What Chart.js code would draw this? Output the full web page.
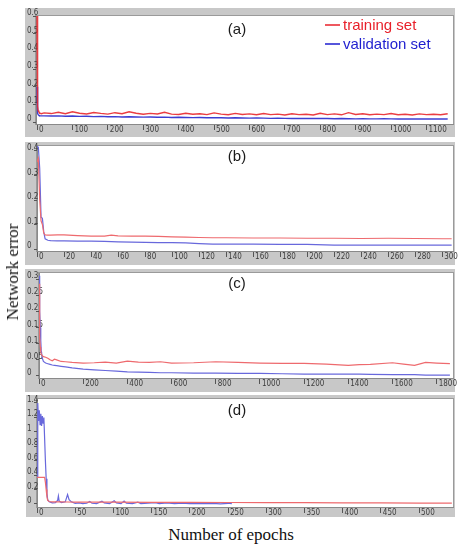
<!DOCTYPE html>
<html>
<head>
<meta charset="utf-8">
<script src="https://cdn.jsdelivr.net/npm/chart.js@4.4.0/dist/chart.umd.min.js"></script>
<style>
  body { margin: 0; background: #fff; width: 462px; height: 550px; position: relative; overflow: hidden; }
  .panel { position: absolute; left: 0; width: 462px; }
  #pa { top: 8px; height: 129px; }
  #pb { top: 142px; height: 123px; }
  #pc { top: 269px; height: 123px; }
  #pd { top: 395px; height: 122px; }
  #ylab {
    position: absolute; left: 13px; top: 272px;
    transform: translate(-50%, -50%) rotate(-90deg);
    font-family: "Liberation Serif", "Times New Roman", serif; font-size: 17px; color: #111; white-space: nowrap;
  }
  #xlab {
    position: absolute; left: 231px; top: 535px;
    transform: translate(-50%, -50%);
    font-family: "Liberation Serif", "Times New Roman", serif; font-size: 17px; color: #111; white-space: nowrap;
  }
</style>
</head>
<body>
<div class="panel" id="pa"><canvas id="chartA"></canvas></div>
<div class="panel" id="pb"><canvas id="chartB"></canvas></div>
<div class="panel" id="pc"><canvas id="chartC"></canvas></div>
<div class="panel" id="pd"><canvas id="chartD"></canvas></div>
<div id="ylab">Network error</div>
<div id="xlab">Number of epochs</div>

<script>
// ---- data ----
const seriesNames = ["training set", "validation set"];

// (a)
const epochsA = [0,1,2,3,5,8,12,20,40,60,80,100,120,140,160,180,200,220,240,260,280,300,320,340,360,380,400,420,440,460,480,500,520,540,560,580,600,620,640,660,680,700,720,740,760,780,800,820,840,860,880,900,920,940,960,980,1000,1020,1040,1060,1080,1100,1120,1140,1160];
const trainA = [0.6,0.35,0.09,0.065,0.058,0.05,0.047,0.052,
  0.048,0.055,0.047,0.058,0.05,0.046,0.054,0.049,0.045,0.053,
  0.047,0.058,0.05,0.044,0.049,0.046,0.055,0.045,0.043,0.05,
  0.044,0.047,0.042,0.052,0.045,0.041,0.049,0.043,0.046,0.041,
  0.048,0.042,0.045,0.04,0.047,0.042,0.044,0.04,0.05,0.042,
  0.046,0.041,0.053,0.043,0.047,0.041,0.045,0.042,0.048,0.041,
  0.044,0.04,0.046,0.042,0.044,0.041,0.047];
const validA = [0.2,0.12,0.05,0.042,0.038,0.036,0.035,0.035,
  0.034,0.035,0.033,0.034,0.032,0.033,0.031,0.032,0.03,0.031,
  0.029,0.03,0.029,0.028,0.029,0.027,0.028,0.026,0.027,0.026,
  0.025,0.026,0.024,0.025,0.024,0.023,0.024,0.023,0.022,0.023,
  0.022,0.021,0.022,0.021,0.02,0.021,0.02,0.02,0.021,0.02,
  0.019,0.02,0.019,0.018,0.019,0.018,0.018,0.019,0.018,0.017,
  0.018,0.017,0.018,0.017,0.017,0.018,0.017];
const xTicksA = [0,100,200,300,400,500,600,700,800,900,1000,1100];
const yTicksA = [0,0.1,0.2,0.3,0.4,0.5,0.6];

// (b)
const epochsB = [0,1,2,3,4,5,6,8,10,15,20,30,40,50,55,60,70,80,90,100,110,120,130,140,160,180,200,220,240,260,280,300,307];
const trainB = [0.355,0.37,0.2,0.115,0.1,0.065,0.058,0.057,0.057,0.058,0.058,0.055,0.053,0.053,0.057,0.054,0.053,0.053,0.052,0.05,0.049,0.047,0.046,0.046,0.045,0.045,0.044,0.044,0.043,0.044,0.043,0.042,0.042];
const validB = [0.42,0.415,0.33,0.13,0.125,0.07,0.042,0.036,0.034,0.033,0.033,0.032,0.032,0.031,0.03,0.029,0.028,0.027,0.026,0.026,0.025,0.022,0.02,0.02,0.02,0.019,0.019,0.016,0.016,0.016,0.016,0.016,0.016];
const xTicksB = [0,20,40,60,80,100,120,140,160,180,200,220,240,260,280,300];
const yTicksB = [0,0.1,0.2,0.3,0.4];

// (c)
const epochsC = [0,2,4,6,8,10,15,20,30,40,50,60,70,80,100,120,150,200,250,300,350,400,450,500,550,600,700,800,900,1000,1100,1200,1300,1400,1450,1500,1600,1650,1700,1750,1800,1860];
const trainC = [0.285,0.2,0.12,0.09,0.075,0.068,0.063,0.06,0.058,0.055,0.05,0.047,0.052,0.05,0.045,0.044,0.042,0.04,0.041,0.043,0.04,0.046,0.043,0.042,0.044,0.04,0.041,0.044,0.042,0.04,0.039,0.039,0.037,0.033,0.035,0.036,0.041,0.037,0.033,0.042,0.04,0.038];
const validC = [0.31,0.26,0.2,0.15,0.11,0.08,0.055,0.045,0.04,0.038,0.036,0.034,0.033,0.032,0.03,0.028,0.025,0.021,0.019,0.017,0.015,0.013,0.012,0.011,0.01,0.01,0.009,0.009,0.008,0.008,0.007,0.006,0.006,0.006,0.006,0.005,0.004,0.004,0.004,0.003,0.003,0.003];
const xTicksC = [0,200,400,600,800,1000,1200,1400,1600,1800];
const yTicksC = [0,0.05,0.1,0.15,0.2,0.25,0.3];

// (d)
const trainEpochsD = [0,5,10,11,12,13,14,16,20,30,40,50,60,80,100,150,200,250,300,350,400,450,500,543];
const trainD = [0.37,0.37,0.37,0.3,0.2,0.1,0.05,0.035,0.03,0.03,0.028,0.027,0.026,0.025,0.025,0.023,0.022,0.021,0.02,0.018,0.016,0.015,0.013,0.012];
const validEpochsD = [0,1,2,3,4,5,6,7,8,9,10,11,12,13,14,16,20,24,27,28,29,32,37,40,42,45,50,55,60,65,69,72,78,85,88,95,101,104,110,114,117,125,132,136,145,155,160,170,180,190,200,210,220,230,240,250,255];
const validD = [0.38,1.4,1.15,1.3,1.1,1.25,1.08,1.22,1.12,1.2,0.9,0.6,0.35,0.15,0.06,
  0.03,0.015,0.02,0.05,0.11,0.04,0.02,0.03,0.13,0.06,
  0.03,0.01,0.015,0.005,0.01,0.035,0.01,0.005,0.04,0.015,
  0.005,0.045,0.015,0.005,0.04,0.01,0.005,0.025,0.005,0.01,
  0.02,0.005,0.015,0.005,0.012,0.004,0.01,0.004,0.01,0.003,
  0.01,0.004];
const xTicksD = [0,50,100,150,200,250,300,350,400,450,500];
const yTicksD = [0,0.2,0.4,0.6,0.8,1,1.2,1.4];

// ---- helpers ----
const pts = (xs, ys) => xs.map((x, i) => ({ x: x, y: ys[i] }));

const framePlugin = {
  id: "frame",
  beforeDraw(chart, args, opts) {
    const { ctx, chartArea: a } = chart;
    ctx.save();
    ctx.fillStyle = "#c8c8c8";
    ctx.fillRect(opts.left, 0, 455 - opts.left, chart.height);
    ctx.fillStyle = "#ffffff";
    ctx.fillRect(a.left, a.top, a.right - a.left, a.bottom - a.top);
    ctx.strokeStyle = "#9a9a9a";
    ctx.lineWidth = 1;
    ctx.strokeRect(a.left - 0.5, a.top - 0.5, a.right - a.left + 1, a.bottom - a.top + 1);
    ctx.restore();
  },
  afterDraw(chart, args, opts) {
    const { ctx, chartArea: a } = chart;
    ctx.save();
    ctx.font = "15px 'Liberation Sans', Arial, sans-serif";
    ctx.fillStyle = "#1a1a1a";
    ctx.textAlign = "center";
    ctx.textBaseline = "middle";
    ctx.fillText(opts.label, 237, a.top + opts.labelDy);
    ctx.restore();
  }
};

const legendPlugin = {
  id: "lineLegend",
  afterDraw(chart) {
    const ctx = chart.ctx;
    ctx.save();
    ctx.font = "15px 'Liberation Sans', Arial, sans-serif";
    ctx.textBaseline = "middle";
    ctx.textAlign = "left";
    chart.data.datasets.forEach((ds, i) => {
      const y = 17 + i * 19;
      ctx.strokeStyle = ds.legendColor;
      ctx.lineWidth = 1.5;
      ctx.beginPath();
      ctx.moveTo(325, y);
      ctx.lineTo(340, y);
      ctx.stroke();
      ctx.fillStyle = ds.legendColor;
      ctx.fillText(ds.label, 343, y + 1);
    });
    ctx.restore();
  }
};

function makeChart(id, cfg) {
  const tickFont = { family: "'Liberation Sans Narrow', 'DejaVu Sans Condensed', 'Liberation Sans', Arial, sans-serif", size: 8 };
  return new Chart(document.getElementById(id), {
    type: "line",
    data: {
      datasets: [
        {
          label: seriesNames[0],
          data: cfg.train,
          borderColor: cfg.red,
          legendColor: "#e8202a",
          borderWidth: cfg.lw,
          pointRadius: 0,
          tension: 0
        },
        {
          label: seriesNames[1],
          data: cfg.valid,
          borderColor: cfg.blue,
          legendColor: "#1e1ecf",
          borderWidth: cfg.lw,
          pointRadius: 0,
          tension: 0
        }
      ]
    },
    options: {
      responsive: true,
      maintainAspectRatio: false,
      animation: false,
      events: [],
      layout: { padding: { left: 27, right: 9, top: cfg.padTop, bottom: 0 } },
      scales: {
        x: {
          type: "linear",
          min: cfg.xMin,
          max: cfg.xMax,
          afterBuildTicks: s => { s.ticks = cfg.xTicks.map(v => ({ value: v })); },
          afterFit: s => {
            s.height = cfg.xH;
            s.paddingLeft = 0; s.paddingRight = 0; s.paddingTop = 0; s.paddingBottom = 0;
          },
          ticks: {
            align: "start",
            labelOffset: 2,
            padding: -5,
            autoSkip: false,
            maxRotation: 0,
            minRotation: 0,
            color: "#3c3c3c",
            font: tickFont,
            callback: v => String(v)
          },
          grid: { drawOnChartArea: false, drawTicks: true, tickLength: 6, color: "#555" },
          border: { display: true, color: "#8a8a8a" }
        },
        y: {
          min: cfg.yMin,
          max: cfg.yMax,
          afterBuildTicks: s => { s.ticks = cfg.yTicks.map(v => ({ value: v })); },
          afterFit: s => {
            s.width = cfg.yW;
            s.paddingLeft = 0; s.paddingRight = 0; s.paddingTop = 0; s.paddingBottom = 0;
            // labels in the source sit left-aligned and may run over the axis strip
            s._computeLabelArea = () => null;
          },
          ticks: {
            crossAlign: "far",
            labelOffset: -3,
            autoSkip: false,
            color: "#3c3c3c",
            font: tickFont,
            callback: v => String(v)
          },
          grid: { drawOnChartArea: false, drawTicks: true, tickLength: 3, color: "#555" },
          border: { display: true, color: "#8a8a8a" }
        }
      },
      plugins: {
        legend: { display: false },
        tooltip: { enabled: false },
        frame: { left: cfg.frameLeft, label: cfg.label, labelDy: cfg.labelDy }
      }
    },
    plugins: cfg.withLegend ? [framePlugin, legendPlugin] : [framePlugin]
  });
}

makeChart("chartA", {
  train: pts(epochsA, trainA), valid: pts(epochsA, validA),
  red: "rgba(232,40,45,0.9)", blue: "rgba(40,40,205,0.9)", lw: 1.4,
  xMin: -3, xMax: 1175, yMin: -0.011, yMax: 0.6,
  xTicks: xTicksA, yTicks: yTicksA,
  padTop: 8, xH: 13, yW: 9, frameLeft: 25,
  label: "(a)", labelDy: 14, withLegend: true
});

makeChart("chartB", {
  train: pts(epochsB, trainB), valid: pts(epochsB, validB),
  red: "#ee6a6e", blue: "#6868dc", lw: 1.2,
  xMin: 0, xMax: 308, yMin: -0.008, yMax: 0.4204,
  xTicks: xTicksB, yTicks: yTicksB,
  padTop: 4, xH: 14, yW: 10, frameLeft: 25,
  label: "(b)", labelDy: 11, withLegend: false
});

makeChart("chartC", {
  train: pts(epochsC, trainC), valid: pts(epochsC, validC),
  red: "#ee6a6e", blue: "#6868dc", lw: 1.2,
  xMin: 0, xMax: 1874, yMin: -0.0062, yMax: 0.3186,
  xTicks: xTicksC, yTicks: yTicksC,
  padTop: 4, xH: 14, yW: 12, frameLeft: 25,
  label: "(c)", labelDy: 11, withLegend: false
});

makeChart("chartD", {
  train: pts(trainEpochsD, trainD), valid: pts(validEpochsD, validD),
  red: "#ee6a6e", blue: "#6868dc", lw: 1.2,
  xMin: 0, xMax: 544.5, yMin: -0.0416, yMax: 1.455,
  xTicks: xTicksD, yTicks: yTicksD,
  padTop: 4, xH: 10, yW: 10, frameLeft: 26,
  label: "(d)", labelDy: 12, withLegend: false
});
</script>
</body>
</html>
